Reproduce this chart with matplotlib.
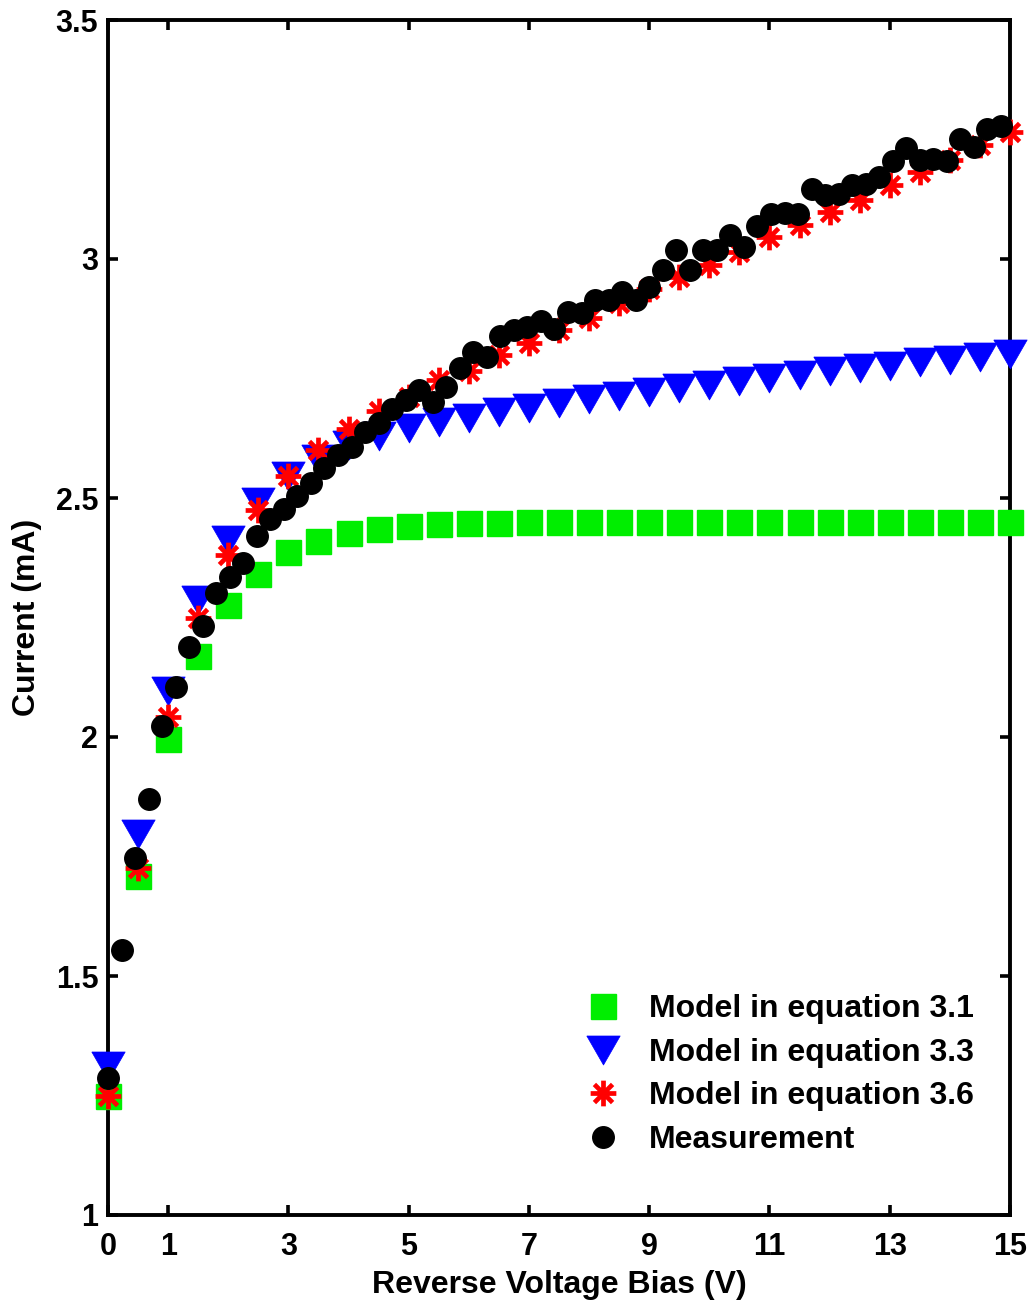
import matplotlib
matplotlib.use("Agg")
import matplotlib.pyplot as plt
from matplotlib.path import Path

# Model curves are evaluated every 0.5 V
model_v = [0.0, 0.5, 1.0, 1.5, 2.0, 2.5, 3.0, 3.5, 4.0, 4.5, 5.0, 5.5, 6.0, 6.5, 7.0,
           7.5, 8.0, 8.5, 9.0, 9.5, 10.0, 10.5, 11.0, 11.5, 12.0, 12.5, 13.0, 13.5,
           14.0, 14.5, 15.0]

model_31 = [1.249, 1.709, 1.995, 2.169, 2.276, 2.342, 2.388, 2.409, 2.426, 2.435,
            2.441, 2.445, 2.447, 2.448, 2.449, 2.449, 2.450, 2.450, 2.450, 2.450,
            2.450, 2.450, 2.450, 2.450, 2.450, 2.450, 2.450, 2.450, 2.450, 2.450,
            2.450]

model_33 = [1.312, 1.797, 2.097, 2.287, 2.412, 2.491, 2.545, 2.582, 2.610, 2.630,
            2.646, 2.658, 2.668, 2.679, 2.689, 2.698, 2.707, 2.714, 2.722, 2.730,
            2.737, 2.744, 2.751, 2.758, 2.765, 2.771, 2.777, 2.784, 2.789, 2.796,
            2.801]

model_36 = [1.248, 1.726, 2.041, 2.248, 2.381, 2.475, 2.545, 2.600, 2.644, 2.681,
            2.712, 2.747, 2.766, 2.799, 2.824, 2.851, 2.876, 2.907, 2.937, 2.963,
            2.987, 3.015, 3.045, 3.071, 3.099, 3.123, 3.155, 3.181, 3.207, 3.238,
            3.266]

# Measured I-V sweep
meas_v = [0.0, 0.225, 0.45, 0.675, 0.9, 1.125, 1.35, 1.575, 1.8, 2.025,
          2.25, 2.475, 2.7, 2.925, 3.15, 3.375, 3.6, 3.825, 4.05, 4.275,
          4.5, 4.725, 4.95, 5.175, 5.4, 5.625, 5.85, 6.075, 6.3, 6.525,
          6.75, 6.975, 7.2, 7.425, 7.65, 7.875, 8.1, 8.325, 8.55, 8.775,
          9.0, 9.225, 9.45, 9.675, 9.9, 10.125, 10.35, 10.575, 10.8, 11.025,
          11.25, 11.475, 11.7, 11.925, 12.15, 12.375, 12.6, 12.825, 13.05, 13.275,
          13.5, 13.725, 13.95, 14.175, 14.4, 14.625, 14.85]

meas_i = [1.287, 1.555, 1.746, 1.871, 2.022, 2.104, 2.189, 2.232, 2.301, 2.335,
          2.365, 2.421, 2.457, 2.478, 2.504, 2.531, 2.562, 2.590, 2.606, 2.639,
          2.656, 2.686, 2.704, 2.726, 2.701, 2.732, 2.773, 2.806, 2.794, 2.839,
          2.851, 2.858, 2.871, 2.853, 2.890, 2.886, 2.914, 2.915, 2.930, 2.915,
          2.942, 2.977, 3.019, 2.976, 3.019, 3.018, 3.050, 3.026, 3.068, 3.094,
          3.096, 3.094, 3.146, 3.134, 3.136, 3.155, 3.157, 3.172, 3.204, 3.232,
          3.207, 3.210, 3.205, 3.252, 3.235, 3.271, 3.278]

labels = ["Model in equation 3.1", "Model in equation 3.3",
          "Model in equation 3.6", "Measurement"]
x_ticks = [0, 1, 3, 5, 7, 9, 11, 13, 15]
y_ticks = [1, 1.5, 2, 2.5, 3, 3.5]

plt.rcParams['font.family'] = ['Liberation Sans', 'DejaVu Sans']
plt.rcParams['font.weight'] = 'bold'

fig = plt.figure(figsize=(10.36, 13.01), dpi=100)
W, H = 1036, 1301
ax = fig.add_axes([108 / W, 1 - 1215 / H, (1010 - 108) / W, (1215 - 20) / H])

# wide, downward-pointing triangle
tri = [(-1.0, 0.87), (1.0, 0.87), (0.0, -0.87), (-1.0, 0.87)]
# eight-armed asterisk
d = 0.707
star = Path([(-1, 0), (1, 0), (0, -1), (0, 1), (-d, -d), (d, d), (-d, d), (d, -d)],
            [Path.MOVETO, Path.LINETO] * 4)

ax.plot(model_v, model_31, ls='none', marker='s', ms=18, color='#00ee00',
        mec='#00ee00', label=labels[0], clip_on=False, zorder=3)
ax.plot(model_v, model_33, ls='none', marker=tri, ms=24, color='#0000ff',
        mec='#0000ff', mew=0.5, label=labels[1], clip_on=False, zorder=4)
ax.plot(model_v, model_36, ls='none', marker=star, ms=18.5, mfc='none',
        mec='#ff0000', mew=3.4, label=labels[2], clip_on=False, zorder=5)
ax.plot(meas_v, meas_i, ls='none', marker='o', ms=15.5, color='black',
        label=labels[3], clip_on=False, zorder=6)

ax.set_xlim(0, 15)
ax.set_ylim(1, 3.5)
ax.set_xticks(x_ticks)
ax.set_xticklabels([str(t) for t in x_ticks])
ax.set_yticks(y_ticks)
ax.set_yticklabels(['1', '1.5', '2', '2.5', '3', '3.5'])

for s in ax.spines.values():
    s.set_linewidth(2.8)
ax.tick_params(direction='in', length=7, width=2.6, labelsize=22,
               top=True, right=True, pad=7)
ax.tick_params(axis='x', pad=12)

ax.set_xlabel("Reverse Voltage Bias (V)", fontsize=23, fontweight='bold')
ax.set_ylabel("Current (mA)", fontsize=23, fontweight='bold')
ax.xaxis.set_label_coords(0.5, -0.046)
ax.yaxis.set_label_coords(-0.073, 0.5)

leg = ax.legend(loc='upper left', bbox_to_anchor=(578 / W, 1 - 994 / H),
                bbox_transform=fig.transFigure, frameon=False, numpoints=1,
                fontsize=23, handlelength=1.55, handletextpad=0.68,
                labelspacing=0.43, borderpad=0, borderaxespad=0)
for t in leg.get_texts():
    t.set_fontweight('bold')

fig.savefig("out.png", dpi=100, facecolor='white')
